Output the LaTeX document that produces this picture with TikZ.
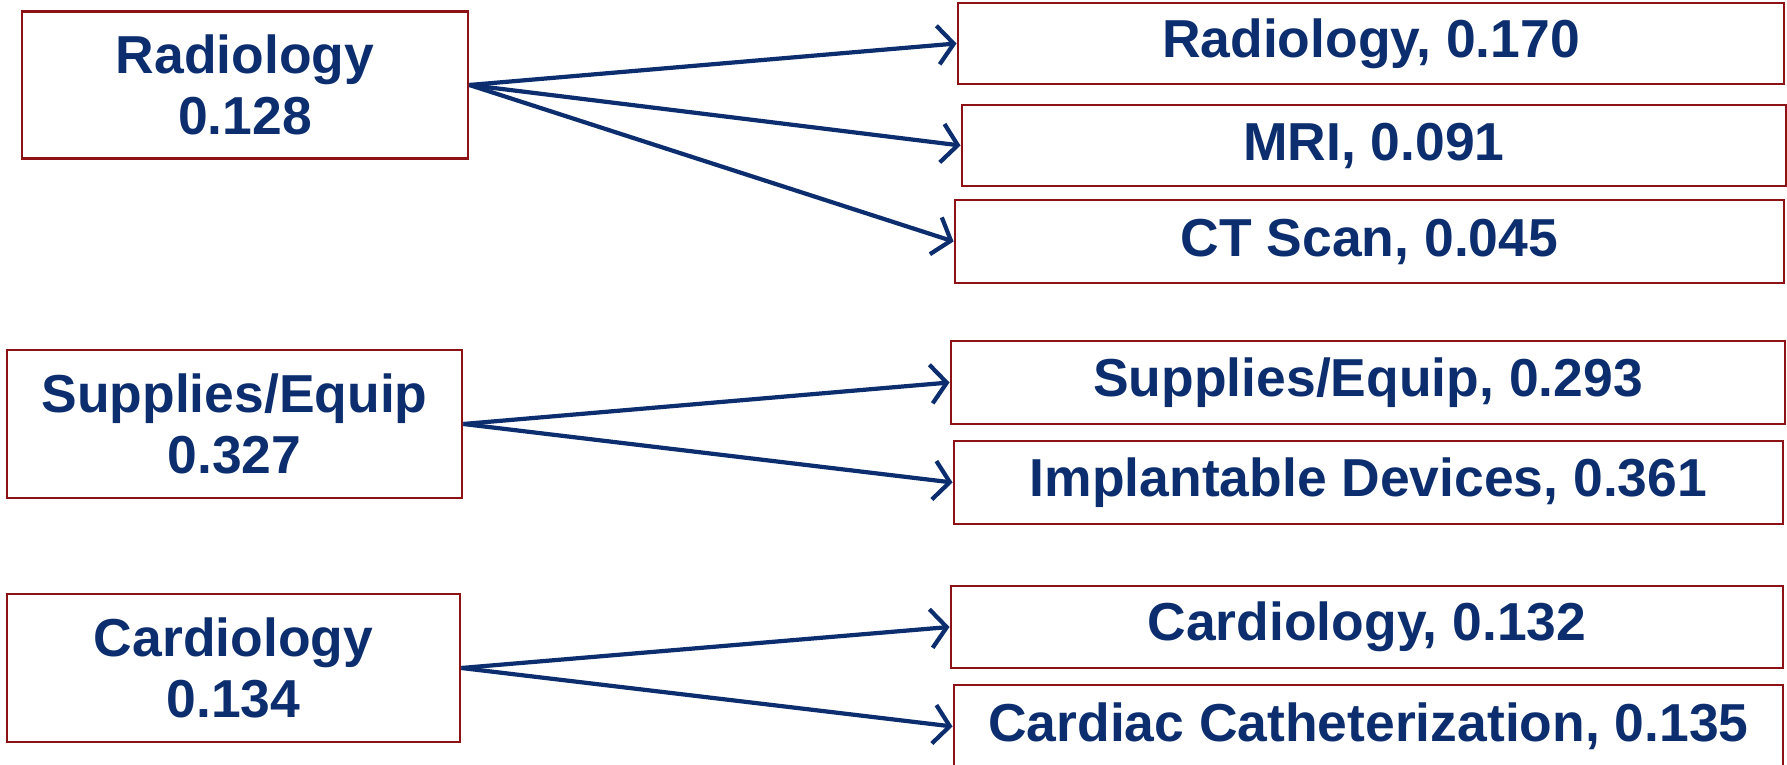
\documentclass[tikz,border=0pt]{standalone}
\usepackage{fontspec}
\setmainfont{Liberation Sans}
\usetikzlibrary{arrows.meta}
\definecolor{navy}{RGB}{12,46,110}
\definecolor{boxred}{RGB}{140,18,22}

\begin{document}
\begin{tikzpicture}[x=0.01cm, y=-0.01cm,
  box/.style={draw=boxred, line width=0.7pt, rectangle, inner sep=0pt,
    align=center, text=navy, font=\fontsize{15.2}{17.4}\selectfont\bfseries},
  link/.style={draw=navy, line width=1.2pt, -{Straight Barb[length=4.5pt,width=11pt]}}]
\useasboundingbox (0,0) rectangle (1787,765);
% left column
\node[box, minimum width=4.46cm, minimum height=1.47cm] (rad) at (245,85) {Radiology\\0.128};
\node[box, minimum width=4.55cm, minimum height=1.48cm] (sup) at (234.5,424) {Supplies/Equip\\0.327};
\node[box, minimum width=4.53cm, minimum height=1.48cm] (card) at (233.5,668) {Cardiology\\0.134};
% right column
\node[box, minimum width=8.26cm, minimum height=0.81cm] (rad1) at (1371,43.5) {Radiology, 0.170};
\node[box, minimum width=8.24cm, minimum height=0.81cm] (rad2) at (1374,145.5) {MRI, 0.091};
\node[box, minimum width=8.29cm, minimum height=0.83cm] (rad3) at (1369.5,241.5) {CT Scan, 0.045};
\node[box, minimum width=8.34cm, minimum height=0.83cm] (sup1) at (1368,382.5) {Supplies/Equip, 0.293};
\node[box, minimum width=8.29cm, minimum height=0.83cm] (sup2) at (1368.5,482.5) {Implantable Devices, 0.361};
\node[box, minimum width=8.32cm, minimum height=0.82cm] (card1) at (1367,627) {Cardiology, 0.132};
\node[box, minimum width=8.29cm, minimum height=0.83cm] (card2) at (1368.5,726.5) {Cardiac Catheterization, 0.135};
% links
\foreach \t in {rad1,rad2,rad3} \draw[link] (rad.east) -- (\t.west);
\foreach \t in {sup1,sup2} \draw[link] (sup.east) -- (\t.west);
\foreach \t in {card1,card2} \draw[link] (card.east) -- (\t.west);
\end{tikzpicture}
\end{document}
